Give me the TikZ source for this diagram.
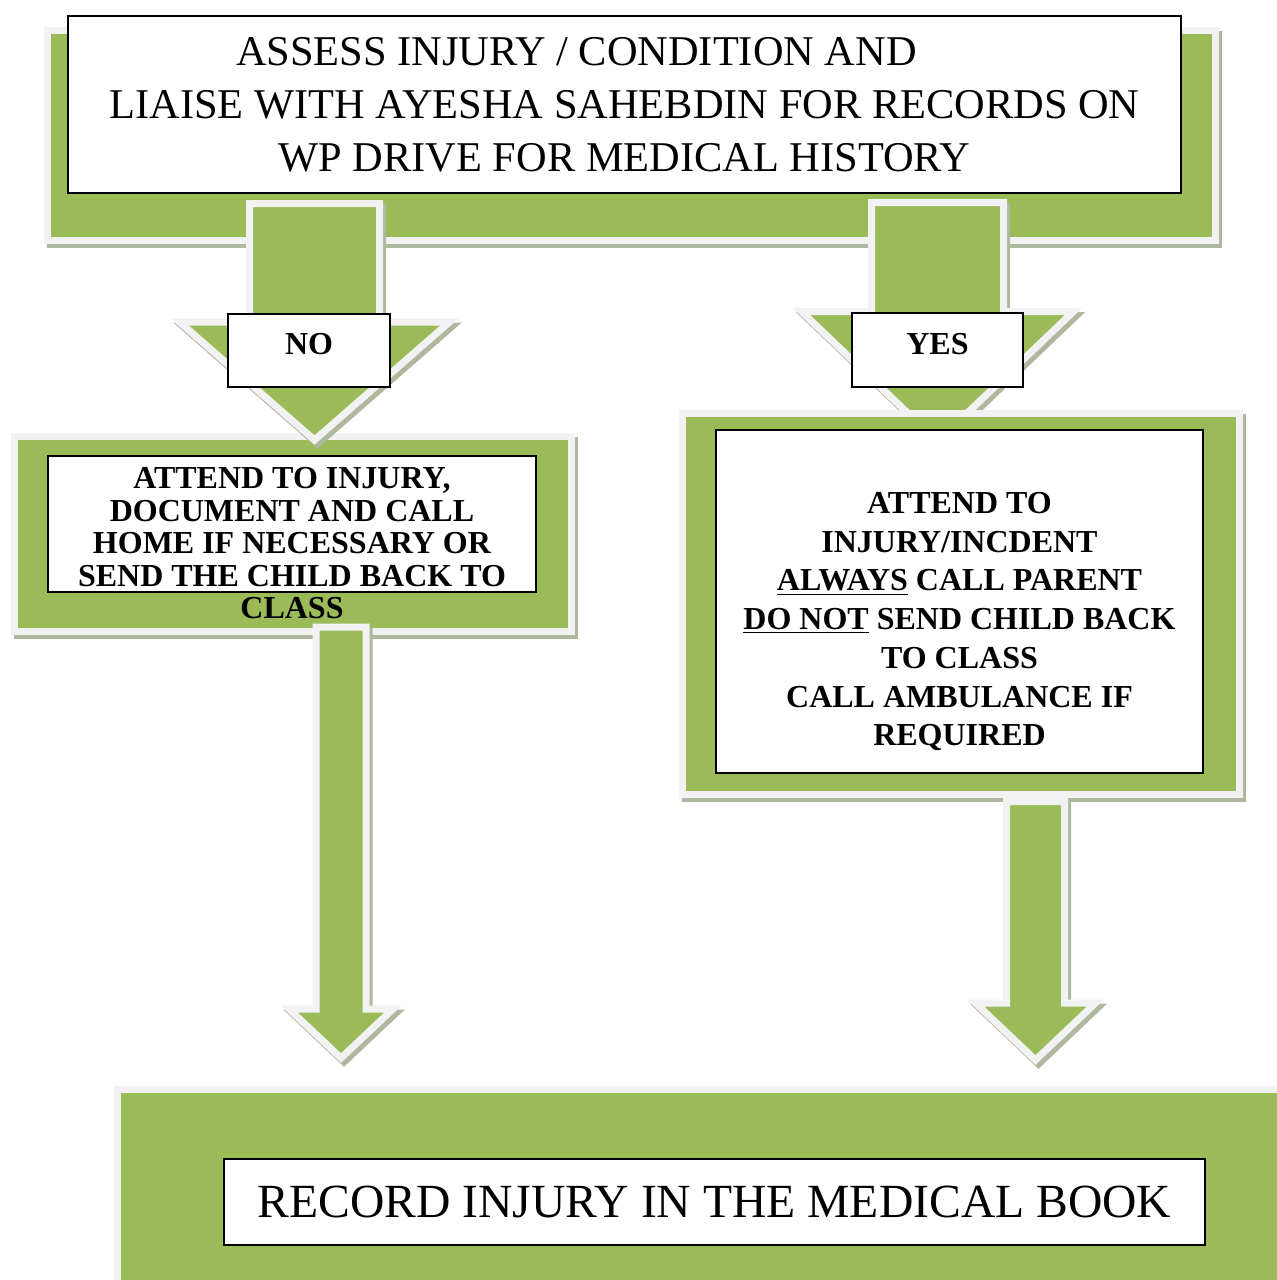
\documentclass[tikz,border=0pt]{standalone}
\usepackage{fontspec}
\setmainfont{Liberation Serif}
\usepackage{tikz}
\usepackage{xcolor}
\usetikzlibrary{
    calc,
    positioning
}
\definecolor{panelgreen}{HTML}{9BBB59}
\definecolor{framegray}{HTML}{F2F2F2}
\definecolor{shadowgray}{HTML}{AEB89F}
% one pixel of the layout
\newcommand{\pxu}{0.5pt}
% block arrow pointing down: top, tip, half shaft, half head, head length
\newcommand{\blockdown}[5]{%
    \path[panel] ($(#1)+(-#3,0)$) -- ($(#1)+(#3,0)$) -- ($(#2)+(#3,-#5)$)
        -- ($(#2)+(#4,-#5)$) -- (#2) -- ($(#2)+(-#4,-#5)$)
        -- ($(#2)+(-#3,-#5)$) -- cycle;}
\tikzset{
    panel/.style={fill=panelgreen, draw=framegray, line width=3.5pt, line join=miter,
        preaction={draw=shadowgray, line width=3.5pt,
            transform canvas={shift={(1.5pt,-2pt)}}}},
    textbox/.style={draw=black, fill=white, line width=1pt, inner sep=0pt, align=center},
    boldtext/.style={inner sep=0pt, align=center, font=\bfseries\fontsize{16pt}{#1}\selectfont},
    boldtext/.default=16.25pt
}

\begin{document}
\begin{tikzpicture}[x=0.5pt, y=-0.5pt]
    \useasboundingbox (0,0) rectangle (1277,1280);

    % top band
    \path[panel] (47.5,30.5) rectangle (1215.5,240.5);
    \node[textbox, minimum width=1113*\pxu, minimum height=177*\pxu,
        font=\fontsize{21.2pt}{26.5pt}\selectfont] (assess) at (624.5,104.5)
        {ASSESS INJURY / CONDITION AND\hspace*{48pt}\\
         LIAISE WITH AYESHA SAHEBDIN FOR RECORDS ON\\
         WP DRIVE FOR MEDICAL HISTORY};

    % no branch
    \path[panel] (14.5,436.5) rectangle (571.5,631.5);
    \coordinate (noTop) at (314.5,203.5);
    \coordinate (noTip) at (314.5,440);
    \blockdown{noTop}{noTip}{65}{135}{118}
    \node[textbox, minimum width=488*\pxu, minimum height=136*\pxu] (noAct) at (292,524) {};
    \node[boldtext, below=6pt of noAct.north] (noActText)
        {ATTEND TO INJURY,\\ DOCUMENT AND CALL\\ HOME IF NECESSARY OR\\
         SEND THE CHILD BACK TO\\ CLASS};

    % yes branch
    \coordinate (yesTop) at (937.5,202.5);
    \coordinate (yesTip) at (937.5,441.5);
    \blockdown{yesTop}{yesTip}{66}{136}{130}
    \path[panel] (682.5,413.5) rectangle (1239,794.5);
    \node[textbox, minimum width=487*\pxu, minimum height=343*\pxu] (yesAct) at (959.5,601.5) {};
    \node[boldtext=19.35pt, below=31.5pt of yesAct.north] (yesActText)
        {ATTEND TO\\ INJURY/INCDENT\\ \underline{ALWAYS} CALL PARENT\\
         \underline{DO NOT} SEND CHILD BACK\\ TO CLASS\\ CALL AMBULANCE IF\\ REQUIRED};

    % labels on the arrows
    \node[textbox, minimum width=162*\pxu, minimum height=73*\pxu, text depth=6.5pt,
        font=\bfseries\fontsize{16pt}{18pt}\selectfont] (noLabel) at (309,350) {NO};
    \node[textbox, minimum width=171*\pxu, minimum height=74*\pxu, text depth=6.5pt,
        font=\bfseries\fontsize{16pt}{18pt}\selectfont] (yesLabel) at (937.5,350) {YES};

    % down to the medical book
    \coordinate (noEnd) at (341,627);
    \coordinate (noEndTip) at (341,1058);
    \blockdown{noEnd}{noEndTip}{25}{52}{49}
    \coordinate (yesEnd) at (1035.5,801.5);
    \coordinate (yesEndTip) at (1035.5,1060);
    \blockdown{yesEnd}{yesEndTip}{29}{60}{57}

    \path[panel] (117.5,1089.5) rectangle (1300,1300);
    \node[textbox, minimum width=981*\pxu, minimum height=86*\pxu,
        font=\fontsize{23.8pt}{28pt}\selectfont] (record) at (714.5,1202)
        {RECORD INJURY IN THE MEDICAL BOOK};
\end{tikzpicture}
\end{document}
